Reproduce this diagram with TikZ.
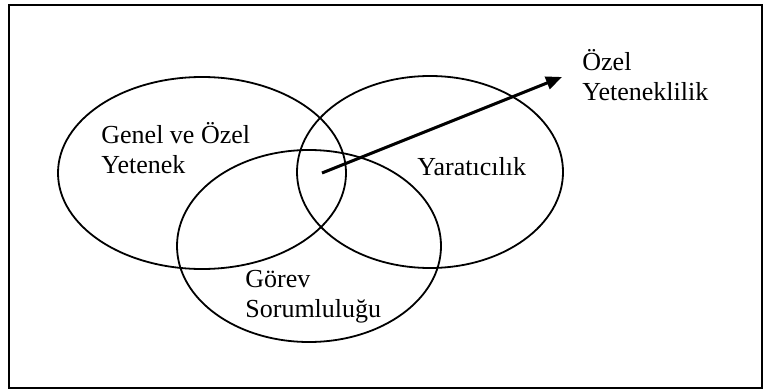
\documentclass[tikz,border=0pt]{standalone}
\usepackage{fontspec}
\setmainfont{Liberation Serif}
\usetikzlibrary{arrows.meta}
\tikzset{
  kume/.style={line width=0.9pt},
  etiket/.style={font=\fontsize{13}{15}\selectfont, align=left, inner sep=0pt, anchor=base west},
  ok/.style={line width=1.5pt, -{Triangle[length=8pt,width=6.5pt]}}
}
\begin{document}
\begin{tikzpicture}[x=0.5pt,y=-0.5pt]
\useasboundingbox (0,0) rectangle (769,390);
\draw[line width=1pt] (9,5) rectangle (762,388); % cerceve
\draw[kume] (202,173) ellipse [x radius=144,y radius=96]; % sol daire
\draw[kume] (430,172) ellipse [x radius=133,y radius=96]; % sag daire
\draw[kume] (309,246) ellipse [x radius=132,y radius=96]; % alt daire
\node[etiket] (genel) at (101,173) {Genel ve Özel\\Yetenek};
\node[etiket] (yarat) at (417,175) {Yaratıcılık};
\node[etiket] (gorev) at (245,317) {Görev\\Sorumluluğu};
\node[etiket] (ozel) at (582,100) {Özel\\Yeteneklilik};
\coordinate (kesisim) at (322,173); % ortak bolge
\coordinate (uc) at (562,77);
\draw[ok] (kesisim) -- (uc);
\end{tikzpicture}
\end{document}
